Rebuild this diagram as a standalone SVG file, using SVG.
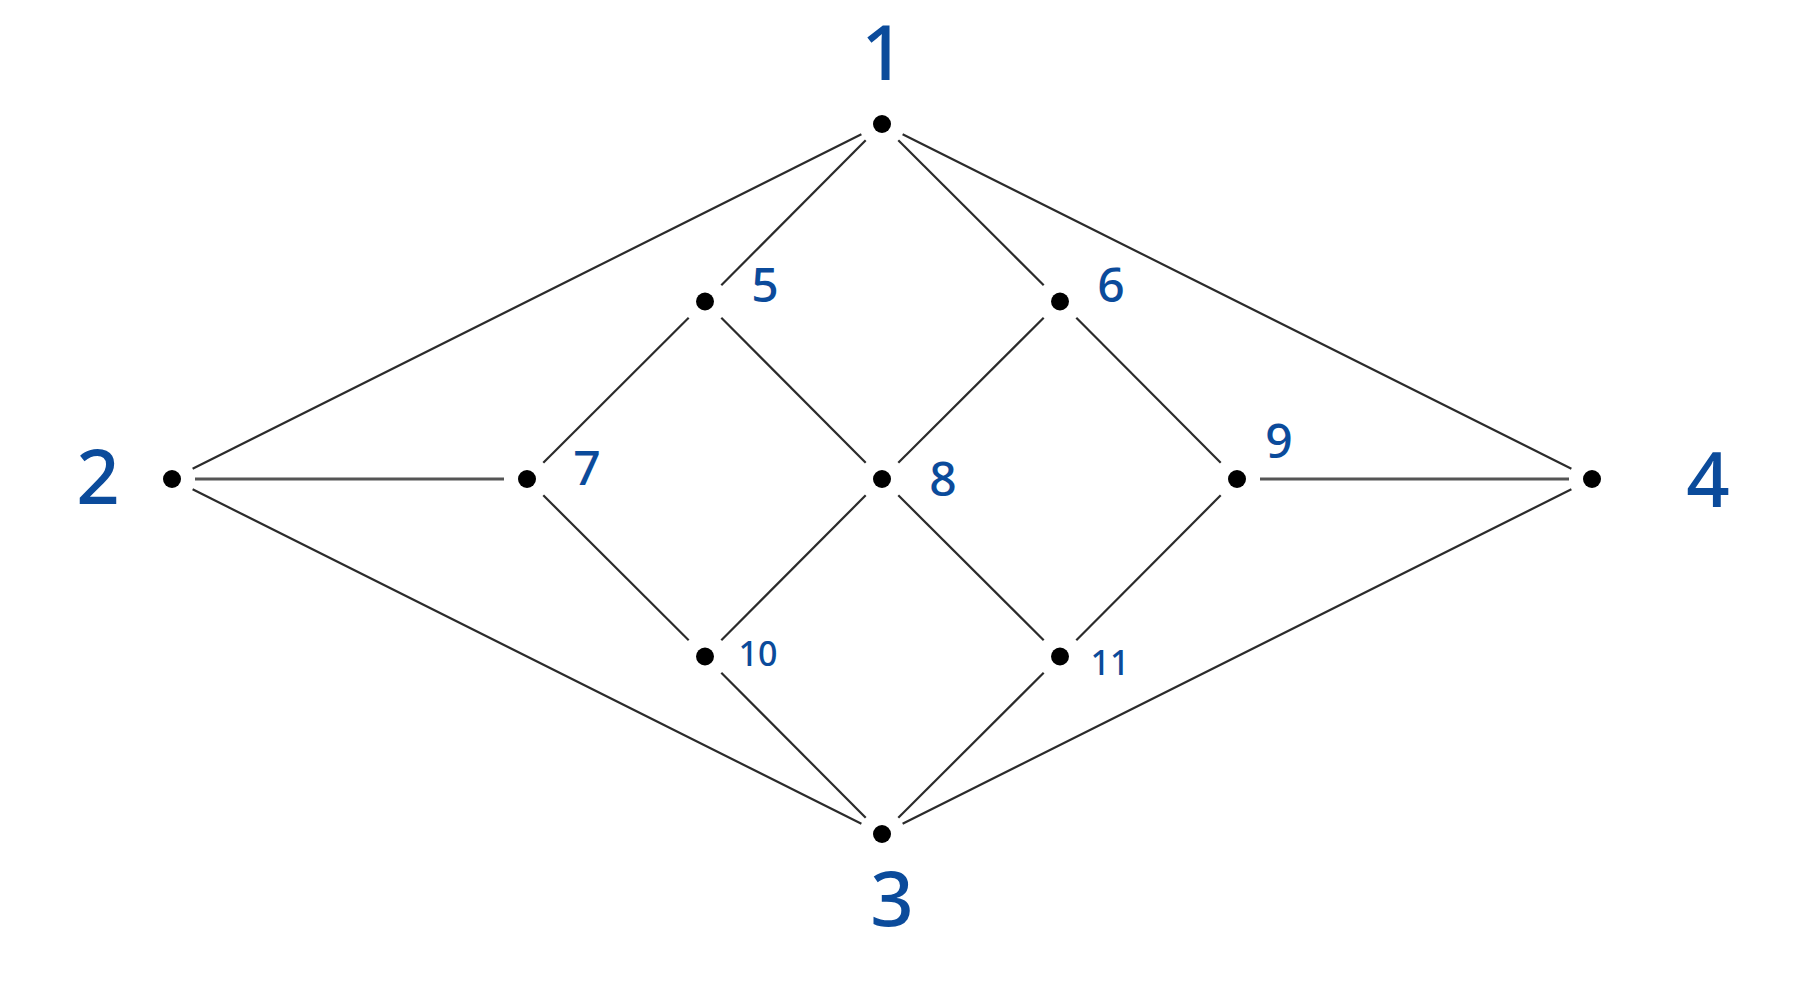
<svg xmlns="http://www.w3.org/2000/svg" width="1804" height="1000" viewBox="0 0 1804 1000">
<style>
.e{stroke:#2b2b2b;stroke-width:2.2;fill:none;stroke-linecap:butt}
.d{fill:#000}
.t{fill:#0b4b9b;font-family:"Noto Sans","Liberation Sans",sans-serif;font-weight:500;text-anchor:middle}
.b{font-size:76px}
.m{font-size:48px}
.s{font-size:34px}
</style>
<rect width="1804" height="1000" fill="#fff"/>
<g id="connectors">
<line class="e" x1="861.4" y1="134.3" x2="192.6" y2="468.7"/>
<line class="e" x1="902.6" y1="134.3" x2="1571.4" y2="468.7"/>
<line class="e" x1="192.6" y1="489.3" x2="861.4" y2="823.7"/>
<line class="e" x1="1571.4" y1="489.3" x2="902.6" y2="823.7"/>
<line class="e" x1="865.7" y1="140.3" x2="721.3" y2="285.2"/>
<line class="e" x1="898.3" y1="140.3" x2="1043.7" y2="285.2"/>
<line class="e" x1="688.7" y1="317.8" x2="543.3" y2="462.7"/>
<line class="e" x1="721.3" y1="317.8" x2="865.7" y2="462.7"/>
<line class="e" x1="1043.7" y1="317.8" x2="898.3" y2="462.7"/>
<line class="e" x1="1076.3" y1="317.8" x2="1220.7" y2="462.7"/>
<line class="e" x1="543.3" y1="495.3" x2="688.7" y2="640.2"/>
<line class="e" x1="865.7" y1="495.3" x2="721.3" y2="640.2"/>
<line class="e" x1="898.3" y1="495.3" x2="1043.7" y2="640.2"/>
<line class="e" x1="1220.7" y1="495.3" x2="1076.3" y2="640.2"/>
<line class="e" x1="721.3" y1="672.8" x2="865.7" y2="817.7"/>
<line class="e" x1="1043.7" y1="672.8" x2="898.3" y2="817.7"/>
<line class="e" x1="195" y1="479" x2="504" y2="479" style="stroke:#555;stroke-width:3"/>
<line class="e" x1="1260" y1="479" x2="1569" y2="479" style="stroke:#555;stroke-width:3"/>
</g>
<g id="node1"><circle class="d" cx="882" cy="124" r="9"/><text class="t b" x="883" y="80">1</text></g>
<g id="node2"><circle class="d" cx="172" cy="479" r="9"/><text class="t b" x="98" y="504">2</text></g>
<g id="node3"><circle class="d" cx="882" cy="834" r="9"/><text class="t b" x="892" y="926">3</text></g>
<g id="node4"><circle class="d" cx="1592" cy="479" r="9"/><text class="t b" x="1708" y="507">4</text></g>
<g id="node5"><circle class="d" cx="705" cy="301.5" r="9"/><text class="t m" x="765" y="302">5</text></g>
<g id="node6"><circle class="d" cx="1060" cy="301.5" r="9"/><text class="t m" x="1111" y="302">6</text></g>
<g id="node7"><circle class="d" cx="527" cy="479" r="9"/><text class="t m" x="587" y="485">7</text></g>
<g id="node8"><circle class="d" cx="882" cy="479" r="9"/><text class="t m" x="943" y="496">8</text></g>
<g id="node9"><circle class="d" cx="1237" cy="479" r="9"/><text class="t m" x="1279" y="458">9</text></g>
<g id="node10"><circle class="d" cx="705" cy="656.5" r="9"/><text class="t s" x="758" y="666">10</text></g>
<g id="node11"><circle class="d" cx="1060" cy="656.5" r="9"/><text class="t s" x="1110" y="675">11</text></g>
</svg>
